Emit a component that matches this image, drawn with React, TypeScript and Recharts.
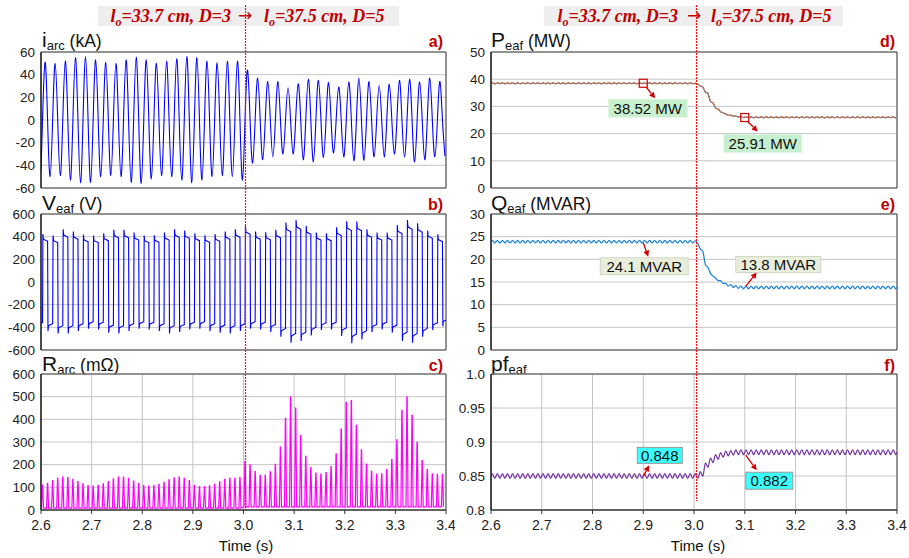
import React from 'react';
import {
  LineChart, Line, XAxis, YAxis, CartesianGrid, ReferenceLine, ReferenceDot, ReferenceArea,
} from 'recharts';

// time axis
const xTicks = [2.6, 2.7, 2.8, 2.9, 3.0, 3.1, 3.2, 3.3, 3.4];

// a) arc current (kA): positive and negative peak of every 50 Hz cycle
const iPos = [51, 50, 52, 55, 56, 53, 51, 50, 53, 55.5, 53, 50, 52, 54, 56, 55, 52, 50.5, 52, 52,
  44, 37, 34, 34, 28.5, 32, 36, 35, 33, 29, 33.5, 37, 34, 30.5, 31.5, 35, 36, 33.5, 37, 34];
const iNeg = [-50, -49, -53, -55.5, -55, -50, -49, -50, -55, -56, -52, -49, -50, -53, -55.5, -53, -50, -49, -50, -53,
  -38, -35, -32.5, -30, -30, -35, -37, -33, -29, -32.5, -36, -35.5, -32.5, -32.5, -30, -32.5, -37, -35, -32.5, -32];
const iStart = -45;

// b) furnace voltage (V): spike after each switching edge
const vPos = [424, 410, 465, 445, 418, 410, 430, 460, 460, 436, 410, 413, 436, 465, 454, 430, 413, 424, 445, 465,
  495, 445, 439, 460, 524, 547, 495, 436, 430, 483, 535, 533, 465, 436, 436, 503, 547, 518, 454, 421];
const vNeg = [-433, -454, -454, -433, -413, -418, -448, -454, -433, -413, -418, -433, -454, -442, -418, -413, -433, -448, -454, -433,
  -413, -418, -442, -483, -535, -521, -471, -424, -418, -477, -541, -506, -442, -418, -448, -521, -535, -483, -424, -390];
const vStart = -360;

// c) arc resistance (mOhm): peak at every current zero crossing
const rPeaks = [110, 118, 130, 140, 145, 143, 135, 125, 115, 108,
  105, 108, 115, 125, 137, 145, 145, 140, 128, 117,
  108, 105, 108, 113, 122, 133, 142, 145, 140, 130,
  109, 103, 103, 106, 113, 124, 135, 140, 140, 143,
  212, 199, 169, 153, 153, 168, 201, 278, 404, 498,
  450, 328, 237, 187, 163, 158, 165, 192, 248, 357,
  475, 483, 373, 265, 202, 170, 158, 160, 178, 222,
  310, 440, 498, 418, 298, 218, 178, 160, 157, 157];
const rBase = [8, 14];

// d) e) f) mean level of each 10 ms step and ripple around it
const pLevels = [...Array(40).fill(38.5), 38.3, 37.3, 35.0, 31.5, 29.2, 27.8, 27.0, 26.6, 26.3, 26.1, ...Array(30).fill(26.0)];
const qLevels = [...Array(40).fill(23.9), 23.8, 22.0, 18.5, 16.6, 15.6, 15.0, 14.4, 14.1, 13.9, 13.8, ...Array(30).fill(13.8)];
const pfLevels = [...Array(40).fill(0.85), 0.85, 0.853, 0.866, 0.873, 0.878, 0.881, 0.883, 0.884, 0.885, 0.885, ...Array(30).fill(0.885)];
const pRipple = 0.2;
const qRipple = 0.3;
const pfRipple = 0.0035;

// marker values
const pNotes = [{ t: 2.9, v: 38.52, label: '38.52 MW' }, { t: 3.1, v: 25.91, label: '25.91 MW' }];
const qNotes = [{ t: 2.9, v: 24.1, label: '24.1 MVAR' }, { t: 3.1, v: 13.8, label: '13.8 MVAR' }];
const pfNotes = [{ t: 2.9, v: 0.848, label: '0.848' }, { t: 3.1, v: 0.882, label: '0.882' }];
const stepTime = 3.0;
const stepMarker = 3.003;

// ---- building the series tables ----
const T0 = 2.603; // first upward zero crossing
const HALF = 0.01;

type Pt = { t: number; v: number };

const iData: Pt[] = [{ t: 2.6, v: iStart }];
iPos.forEach((p, i) => {
  const t = T0 + 2 * HALF * i;
  iData.push({ t, v: 0 }, { t: t + HALF / 2, v: p }, { t: t + HALF, v: 0 }, { t: t + 1.5 * HALF, v: iNeg[i] });
});

const vSpikes = vPos.flatMap((p, i) => [p, vNeg[i]]);
const vData: Pt[] = [{ t: 2.6, v: vStart }];
let vPrev = vStart;
vSpikes.forEach((s, j) => {
  const t = T0 + HALF * j;
  vData.push({ t, v: vPrev }, { t: t + 0.0008, v: s }, { t: t + 0.0018, v: s * 0.89 }, { t: t + 0.0096, v: s * 0.85 });
  vPrev = s * 0.85;
});

const rData: Pt[] = [{ t: 2.6, v: rBase[0] }];
rPeaks.forEach((p, k) => {
  const t = T0 + HALF * k;
  const base = t < stepTime ? rBase[0] : rBase[1];
  rData.push({ t: t - 0.002, v: base }, { t: t - 0.0003, v: p }, { t: t + 0.0003, v: p }, { t: t + 0.002, v: base });
});

function rippled(levels: number[], amp: number): Pt[] {
  const out: Pt[] = [{ t: 2.6, v: levels[0] }];
  levels.forEach((lv, k) => {
    const t = 2.6 + HALF * k;
    out.push({ t: t + 0.0025, v: lv + amp }, { t: t + 0.0075, v: lv - amp });
  });
  out.push({ t: 3.4, v: levels[levels.length - 1] });
  return out;
}
const pData = rippled(pLevels, pRipple);
const qData = rippled(qLevels, qRipple);
const pfData = rippled(pfLevels, pfRipple);

// ---- layout ----
const FONT = 'Liberation Sans, Arial, sans-serif';
const RED = '#c00000';
const PLOT_H = 136;
const ROWS = [{ top: 0, gap: 52 }, { top: 188, gap: 26 }, { top: 350, gap: 24 }];
const COLS = [{ left: 0, width: 455, right: 9 }, { left: 450, width: 459, right: 12 }];

type NoteStyle = { fill: string; edge: string; box: number[]; arrow: number[]; square?: boolean };
const pStyle: NoteStyle[] = [
  { fill: '#c6efce', edge: '#e2f5e2', box: [-35, 16, 79, 18], arrow: [3, 4, 12, 15], square: true },
  { fill: '#c6efce', edge: '#e2f5e2', box: [-21, 17, 78, 18], arrow: [3, 4, 13, 14], square: true },
];
const qStyle: NoteStyle[] = [
  { fill: '#e8eddc', edge: '#d0d6c4', box: [-43, 17, 88, 17], arrow: [0, 2, 5, 16] },
  { fill: '#e8eddc', edge: '#d0d6c4', box: [-9, -31, 85, 16], arrow: [1, -1, 12, -15] },
];
const pfStyle: NoteStyle[] = [
  { fill: '#3cffff', edge: '#9a9a9a', box: [-6, -30, 45, 16], arrow: [0, -1, 6, -12] },
  { fill: '#3cffff', edge: '#9a9a9a', box: [1, 18, 47, 17], arrow: [1, 1, 12, 16] },
];

function Arrow({ x1, y1, x2, y2 }: { x1: number; y1: number; x2: number; y2: number }) {
  const a = Math.atan2(y2 - y1, x2 - x1);
  const L = 6;
  const W = 3;
  const bx = x2 - L * Math.cos(a);
  const by = y2 - L * Math.sin(a);
  const px = -Math.sin(a) * W;
  const py = Math.cos(a) * W;
  return (
    <g>
      <line x1={x1} y1={y1} x2={bx} y2={by} stroke="#d00000" strokeWidth={1.3} />
      <polygon points={`${x2},${y2} ${bx + px},${by + py} ${bx - px},${by - py}`} fill="#d00000" />
    </g>
  );
}

const noteShape = (label: string, s: NoteStyle) => (props: any) => {
  const { cx, cy } = props;
  if (cx == null || cy == null) return <g />;
  const [bx, by, bw, bh] = s.box;
  const [a1, b1, a2, b2] = s.arrow;
  return (
    <g>
      {s.square && <rect x={cx - 4} y={cy - 4} width={8} height={8} fill="none" stroke="#d00000" strokeWidth={1.2} />}
      <Arrow x1={cx + a1} y1={cy + b1} x2={cx + a2} y2={cy + b2} />
      <rect x={cx + bx} y={cy + by} width={bw} height={bh} fill={s.fill} stroke={s.edge} />
      <text x={cx + bx + bw / 2} y={cy + by + bh / 2 + 5.5} textAnchor="middle" fontSize={15} fontFamily={FONT} fill="#111">
        {label}
      </text>
    </g>
  );
};

const dotted = (up: number, cut: number) => (props: any) => {
  const ya = Math.min(props.y1, props.y2);
  const yb = Math.max(props.y1, props.y2);
  const x = Math.round(props.x1) + 0.5;
  return (
    <line x1={x} x2={x} y1={ya - up} y2={yb - cut}
      stroke="#ff1010" strokeWidth={1.2} strokeDasharray="2 1" />
  );
};

interface PanelProps {
  row: number;
  col: number;
  series: { data: Pt[]; color: string; width: number; type: 'linear' | 'monotone' | 'natural'; dash?: string }[];
  domain: [number, number];
  ticks: number[];
  fmt?: (v: number) => string;
  notes?: { t: number; v: number; label: string }[];
  styles?: NoteStyle[];
  cut?: number;
}

function Panel({ row, col, series, domain, ticks, fmt, notes, styles, cut = 0 }: PanelProps) {
  const r = ROWS[row];
  const c = COLS[col];
  const bottom = row === 2;
  const axisH = bottom ? 48 : 0;
  const below = bottom ? 0 : 10;
  const height = r.gap + PLOT_H + axisH + below;
  const up = row === 0 ? 47 : r.gap;
  return (
    <div style={{ position: 'absolute', left: c.left, top: r.top }}>
      <LineChart width={c.width} height={height} margin={{ top: r.gap, right: c.right, bottom: below, left: 0 }}>
        <CartesianGrid stroke="#c4c4c4" strokeWidth={1} />
        <XAxis
          type="number" dataKey="t" domain={[2.6, 3.4]} ticks={xTicks} allowDataOverflow interval={0}
          height={axisH}
          tick={bottom ? { fontSize: 14, fill: '#222', fontFamily: FONT } : false}
          tickLine={bottom ? { stroke: '#333' } : false}
          axisLine={bottom ? { stroke: '#333' } : false}
          tickSize={4} tickMargin={6}
          tickFormatter={(v: number) => v.toFixed(1)}
        />
        <YAxis
          type="number" domain={domain} ticks={ticks} allowDataOverflow interval={0} width={41}
          tickLine={false} tickSize={4} tickMargin={2}
          axisLine={{ stroke: '#000' }}
          tick={{ fontSize: 13.5, fill: '#222', fontFamily: FONT }}
          tickFormatter={fmt ?? ((v: number) => String(v))}
        />
        <ReferenceArea x1={2.6} x2={3.4} y1={domain[0]} y2={domain[1]} fill="none" stroke="#454545" strokeWidth={1} />
        {series.map((s, i) => (
          <Line key={i} data={s.data} dataKey="v" type={s.type} stroke={s.color} strokeWidth={s.width}
            strokeDasharray={s.dash} dot={false} activeDot={false} isAnimationActive={false} />
        ))}
        <ReferenceLine x={stepMarker} stroke="#ff1010" shape={dotted(up, cut)} />
        {notes && styles && notes.map((n, i) => (
          <ReferenceDot key={i} x={n.t} y={n.v} r={0} shape={noteShape(n.label, styles[i])} />
        ))}
      </LineChart>
    </div>
  );
}

function Title({ x, y, main, sub, unit, letter, right }: { x: number; y: number; main: string; sub: string; unit: string; letter: string; right: number }) {
  return (
    <>
      <text x={x} y={y} fontFamily={FONT} fill="#111">
        <tspan fontSize={21}>{main}</tspan>
        <tspan fontSize={13} dy={3}>{sub}</tspan>
        <tspan fontSize={17.5} dy={-3}>{unit}</tspan>
      </text>
      <text x={right} y={y} textAnchor="end" fontFamily={FONT} fontSize={16} fontWeight="bold" fill={RED}>{letter}</text>
    </>
  );
}

function Header({ boxX, boxW, endX, arrowX, startX }: { boxX: number; boxW: number; endX: number; arrowX: number; startX: number }) {
  const st = { fontFamily: 'Liberation Serif, Times New Roman, serif', fontWeight: 'bold' as const, fontStyle: 'italic' as const, fill: RED };
  return (
    <>
      <rect x={boxX} y={6} width={boxW} height={20} fill="#eeeeee" />
      <text x={endX} y={22} textAnchor="end" fontSize={18} {...st}>
        l<tspan fontSize={12} dy={4}>o</tspan><tspan dy={-4}>=33.7 cm, D=3</tspan>
      </text>
      <text x={arrowX} y={20.5} textAnchor="middle" fontSize={17} fontFamily="DejaVu Sans" fill={RED}>→</text>
      <text x={startX} y={22} fontSize={18} {...st}>
        l<tspan fontSize={12} dy={4}>o</tspan><tspan dy={-4}>=37.5 cm, D=5</tspan>
      </text>
    </>
  );
}

export default function App() {
  const pfFmt = (v: number) => (v === 1 ? '1.0' : String(v));
  return (
    <div style={{ position: 'absolute', left: 0, top: 0, width: 909, height: 558, background: '#fff', overflow: 'hidden' }}>
      <svg width={909} height={558} style={{ position: 'absolute', left: 0, top: 0 }}>
        <Header boxX={98} boxW={301} endX={231} arrowX={245} startX={264} />
        <Header boxX={544} boxW={299} endX={678} arrowX={694} startX={711} />
        <Title x={42} y={47} main="i" sub="arc" unit=" (kA)" letter="a)" right={443} />
        <Title x={42} y={210} main="V" sub="eaf" unit=" (V)" letter="b)" right={443} />
        <Title x={42} y={371} main="R" sub="arc" unit=" (mΩ)" letter="c)" right={443} />
        <Title x={491} y={47} main="P" sub="eaf" unit=" (MW)" letter="d)" right={895} />
        <Title x={491} y={210} main="Q" sub="eaf" unit=" (MVAR)" letter="e)" right={895} />
        <Title x={491} y={371} main="pf" sub="eaf" unit="" letter="f)" right={895} />
        <text x={246} y={551} textAnchor="middle" fontFamily={FONT} fontSize={15} fill="#111">Time (s)</text>
        <text x={698} y={551} textAnchor="middle" fontFamily={FONT} fontSize={15} fill="#111">Time (s)</text>
      </svg>

      <Panel row={0} col={0} domain={[-60, 60]} ticks={[-60, -40, -20, 0, 20, 40, 60]}
        series={[{ data: iData, color: '#0000ff', width: 1.1, type: 'natural' }]} />
      <Panel row={1} col={0} domain={[-600, 600]} ticks={[-600, -400, -200, 0, 200, 400, 600]}
        series={[{ data: vData, color: '#0000ff', width: 1.1, type: 'linear' }]} />
      <Panel row={2} col={0} domain={[0, 600]} ticks={[0, 100, 200, 300, 400, 500, 600]}
        series={[{ data: rData, color: '#ff00ff', width: 1.2, type: 'linear' }]} />

      <Panel row={0} col={1} domain={[0, 50]} ticks={[0, 10, 20, 30, 40, 50]}
        series={[
          { data: pData, color: '#8a86a6', width: 1.4, type: 'linear' },
          { data: pData, color: '#c8641e', width: 1.2, type: 'linear', dash: '2 1.5' },
        ]}
        notes={pNotes} styles={pStyle} />
      <Panel row={1} col={1} domain={[0, 30]} ticks={[0, 5, 10, 15, 20, 25, 30]}
        series={[{ data: qData, color: '#1a7fd4', width: 1.2, type: 'monotone' }]}
        notes={qNotes} styles={qStyle} />
      <Panel row={2} col={1} domain={[0.8, 1.0]} ticks={[0.8, 0.85, 0.9, 0.95, 1.0]} fmt={pfFmt}
        series={[{ data: pfData, color: '#7030a0', width: 1.2, type: 'monotone' }]}
        notes={pfNotes} styles={pfStyle} cut={9} />
    </div>
  );
}
